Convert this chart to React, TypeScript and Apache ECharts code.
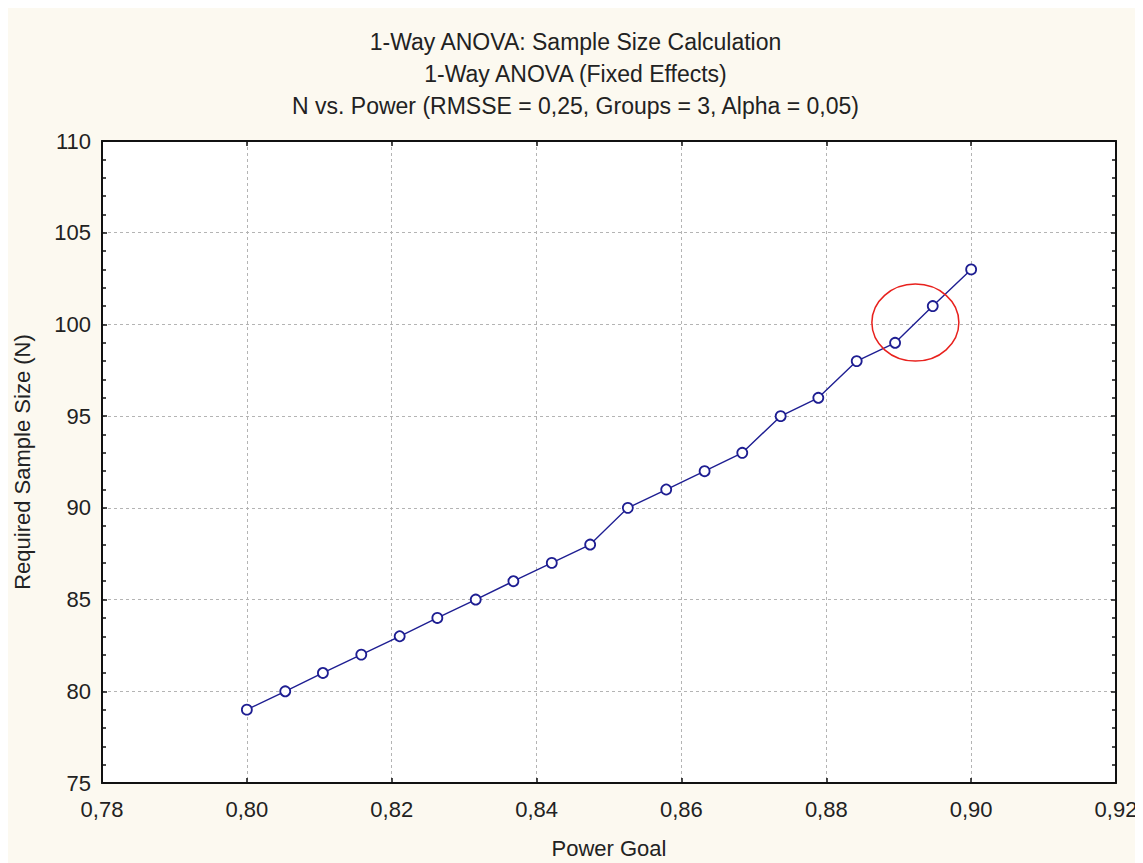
import React, { useEffect, useRef } from "react";
import * as echarts from "echarts";

// ---- data ----
const titleLines = [
  "1-Way ANOVA: Sample Size Calculation",
  "1-Way ANOVA (Fixed Effects)",
  "N vs. Power (RMSSE = 0,25, Groups = 3, Alpha = 0,05)",
];
const xAxisName = "Power Goal";
const yAxisName = "Required Sample Size (N)";
const powerGoal = [
  0.8, 0.8053, 0.8105, 0.8158, 0.8211, 0.8263, 0.8316, 0.8368, 0.8421, 0.8474,
  0.8526, 0.8579, 0.8632, 0.8684, 0.8737, 0.8789, 0.8842, 0.8895, 0.8947, 0.9,
];
const sampleSize = [
  79, 80, 81, 82, 83, 84, 85, 86, 87, 88, 90, 91, 92, 93, 95, 96, 98, 99, 101, 103,
];
const xRange = [0.78, 0.92, 0.02];
const yRange = [75, 110, 5];
// highlighted region (data coordinates of the red ellipse centre)
const highlightCenter = [0.8923, 100.1];

const FONT = "'Liberation Sans', Arial, Helvetica, sans-serif";
const NAVY = "#1e1e92";
const TEXT = "#222222";

export default function App() {
  const ref = useRef<HTMLDivElement>(null);

  useEffect(() => {
    document.documentElement.style.overflow = "hidden";
    document.body.style.overflow = "hidden";
    const el = ref.current!;
    const chart = echarts.init(el, undefined, { renderer: "svg" });

    const axisLine = { show: true, onZero: false, lineStyle: { color: "#111", width: 2 } };
    const splitLine = {
      show: true,
      lineStyle: { color: "#b4b4b4", width: 1, type: [3, 3] as any },
    };
    const tick = { show: true, inside: true, length: 5, lineStyle: { color: "#111", width: 1.5 } };
    const minor = { show: true, splitNumber: 5, length: 4, lineStyle: { color: "#111", width: 1.5 } };
    const fmt = (v: number) => v.toFixed(2).replace(".", ",");

    chart.setOption({
      animation: false,
      backgroundColor: "#fcf9f0",
      textStyle: { fontFamily: FONT },
      title: {
        text: titleLines.join("\n"),
        left: "center",
        top: 18,
        padding: 0,
        textStyle: {
          fontFamily: FONT,
          fontSize: 23,
          fontWeight: "normal",
          color: TEXT,
          lineHeight: 32,
        },
      },
      grid: {
        left: 94,
        top: 133,
        right: 27,
        bottom: 80,
        show: true,
        backgroundColor: "#ffffff",
        borderWidth: 0,
        outerBoundsMode: "none",
      },
      xAxis: [
        {
          type: "value",
          position: "bottom",
          min: xRange[0],
          max: xRange[1],
          interval: xRange[2],
          axisLine,
          axisTick: tick,
          axisLabel: {
            fontFamily: FONT,
            fontSize: 22,
            color: TEXT,
            margin: 15,
            formatter: fmt,
          },
          splitLine,
          name: xAxisName,
          nameLocation: "middle",
          nameGap: 54,
          nameTextStyle: { fontFamily: FONT, fontSize: 22, color: TEXT },
        },
        {
          type: "value",
          position: "top",
          min: xRange[0],
          max: xRange[1],
          interval: xRange[2],
          axisLine,
          axisTick: tick,
          axisLabel: { show: false },
          splitLine: { show: false },
        },
      ],
      yAxis: [
        {
          type: "value",
          position: "left",
          min: yRange[0],
          max: yRange[1],
          interval: yRange[2],
          axisLine,
          axisTick: tick,
          minorTick: minor,
          axisLabel: { fontFamily: FONT, fontSize: 22, color: TEXT, margin: 11 },
          splitLine,
          name: yAxisName,
          nameLocation: "middle",
          nameGap: 69,
          nameTextStyle: { fontFamily: FONT, fontSize: 22, color: TEXT },
        },
        {
          type: "value",
          position: "right",
          min: yRange[0],
          max: yRange[1],
          interval: yRange[2],
          axisLine,
          axisTick: tick,
          minorTick: minor,
          axisLabel: { show: false },
          splitLine: { show: false },
        },
      ],
      series: [
        {
          type: "line",
          xAxisIndex: 0,
          yAxisIndex: 0,
          data: powerGoal.map((x, i) => [x, sampleSize[i]]),
          symbol: "circle",
          symbolSize: 10,
          showAllSymbol: true,
          lineStyle: { color: NAVY, width: 1.4 },
          itemStyle: { color: "#ffffff", borderColor: NAVY, borderWidth: 1.8 },
          z: 5,
        },
      ],
    });

    const c = chart.convertToPixel({ xAxisIndex: 0, yAxisIndex: 0 }, highlightCenter) as number[];
    chart.setOption({
      graphic: [
        {
          type: "ellipse",
          shape: { cx: c[0], cy: c[1], rx: 43.5, ry: 38.5 },
          style: { fill: "none", stroke: "#e8211d", lineWidth: 1.5 },
          z: 10,
        },
      ],
    });

    return () => chart.dispose();
  }, []);

  return <div ref={ref} style={{ width: 1135, height: 855 }} />;
}
